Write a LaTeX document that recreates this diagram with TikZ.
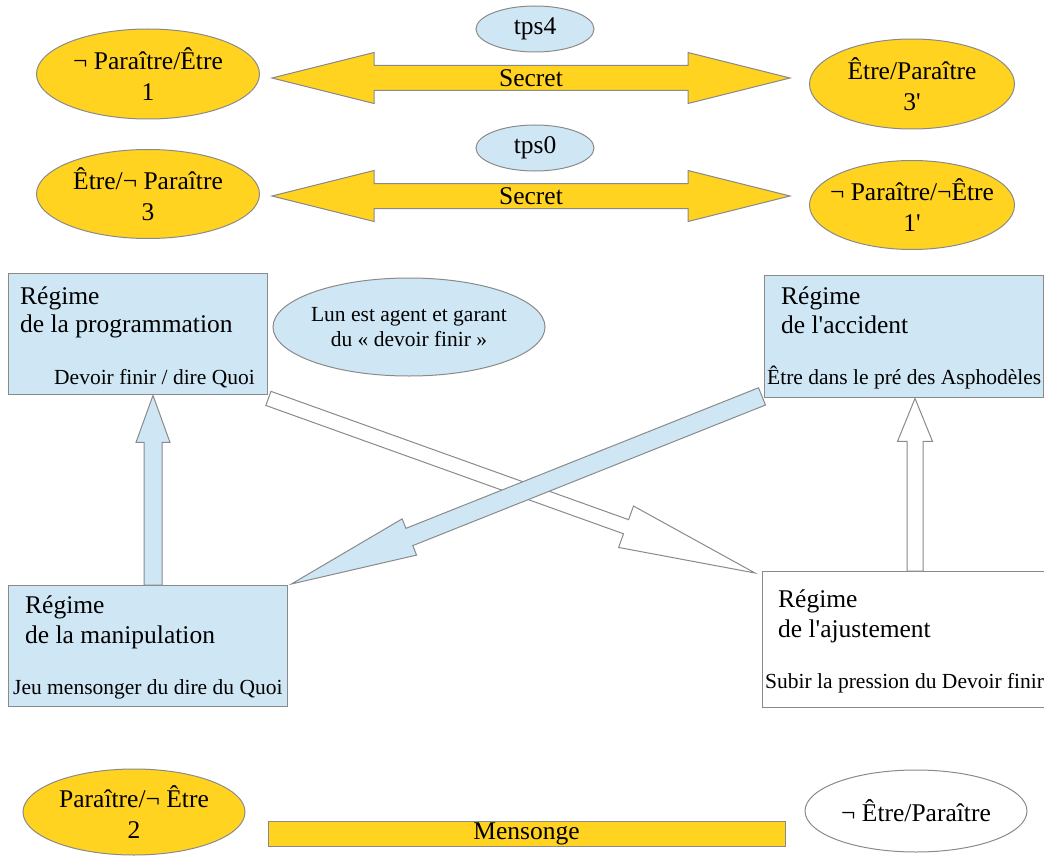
\documentclass[tikz,border=0pt]{standalone}
\usepackage{fontspec}
\setmainfont{Liberation Serif}
\usetikzlibrary{calc,shapes.geometric}
\definecolor{sunyellow}{HTML}{FFD320}
\definecolor{paleblue}{HTML}{CFE7F5}
\definecolor{edgegray}{HTML}{8A8A8A}
\newcommand{\bigfnt}{\fontsize{25.5}{31}\selectfont}
\newcommand{\smallfnt}{\fontsize{21.5}{25}\selectfont}
% block arrow from #2 (tail) to #3 (tip): shaft half-width #4, head half-width #5, head length #6
\newcommand{\blockarrow}[6][]{%
  \coordinate (hb) at ($(#3)!#6!(#2)$);
  \draw[#1] ($(#2)!#4!90:(#3)$) -- ($(hb)!#4!-90:(#2)$) -- ($(hb)!#5!-90:(#2)$) -- (#3)
    -- ($(hb)!#5!90:(#2)$) -- ($(hb)!#4!90:(#2)$) -- ($(#2)!#4!-90:(#3)$) -- cycle;}
% two-headed block arrow between #2 and #3
\newcommand{\dblarrow}[6][]{%
  \coordinate (hba) at ($(#2)!#6!(#3)$);
  \coordinate (hbb) at ($(#3)!#6!(#2)$);
  \draw[#1] (#2) -- ($(hba)!#5!90:(#3)$) -- ($(hba)!#4!90:(#3)$) -- ($(hbb)!#4!-90:(#2)$)
    -- ($(hbb)!#5!-90:(#2)$) -- (#3) -- ($(hbb)!#5!90:(#2)$) -- ($(hbb)!#4!90:(#2)$)
    -- ($(hba)!#4!-90:(#3)$) -- ($(hba)!#5!-90:(#3)$) -- cycle;}
\begin{document}
\begin{tikzpicture}[x=1pt,y=-1pt,line join=miter,
  ell/.style={ellipse, draw=edgegray, line width=1pt, inner sep=0pt, inner xsep=-15pt, align=center, font=\bigfnt},
  yel/.style={fill=sunyellow},
  pale/.style={fill=paleblue},
  regbox/.style={rectangle, draw=edgegray, line width=1.4pt, anchor=north west, inner sep=0pt},
  head/.style={anchor=base west, inner sep=0pt, font=\bigfnt},
  note/.style={anchor=base west, inner sep=0pt, font=\smallfnt},
  yarrow/.style={draw=edgegray, line width=1pt, fill=sunyellow},
  barrow/.style={draw=edgegray, line width=1pt, fill=paleblue},
  warrow/.style={draw=edgegray, line width=1pt, fill=white},
]
\useasboundingbox (0,0) rectangle (1044,856);
\clip (0,0) rectangle (1044,856);

% --- secret exchanges (top) ---
\node[ell, yel, minimum width=223pt, minimum height=90pt] (e1) at (148,74) {¬ Paraître/Être\\1};
\node[ell, yel, minimum width=205pt, minimum height=90pt, inner xsep=-25pt] (e3p) at (912,84) {Être/Paraître\\3\textquotesingle};
\node[ell, pale, minimum width=118pt, minimum height=46pt] (tps4) at (535,29) {tps4};
\coordinate (s1a) at (272,78);
\coordinate (s1b) at (790,78);
\dblarrow[yarrow]{s1a}{s1b}{12.5pt}{25.5pt}{102pt}
\node[font=\bigfnt, inner sep=0pt] (sec1) at ($(s1a)!0.5!(s1b)$) {Secret};

\node[ell, yel, minimum width=223pt, minimum height=89pt] (e3) at (148,194) {Être/¬ Paraître\\3};
\node[ell, yel, minimum width=205pt, minimum height=89pt, inner xsep=-25pt] (e1p) at (912,205) {¬ Paraître/¬Être\\1\textquotesingle};
\node[ell, pale, minimum width=118pt, minimum height=46pt] (tps0) at (535,148) {tps0};
\coordinate (s2a) at (272,196);
\coordinate (s2b) at (790,196);
\dblarrow[yarrow]{s2a}{s2b}{12.5pt}{25.5pt}{102pt}
\node[font=\bigfnt, inner sep=0pt] (sec2) at ($(s2a)!0.5!(s2b)$) {Secret};

% --- regimes ---
\node[regbox, pale, minimum width=259pt, minimum height=121pt] (prog) at (8,273) {};
\node[head] (prog-t1) at (20,304) {Régime};
\node[head] (prog-t2) at (20,332) {de la programmation};
\node[note, anchor=base east] (prog-t3) at (255,384) {Devoir finir / dire Quoi};

\node[ell, pale, font=\smallfnt, minimum width=272pt, minimum height=98pt, inner xsep=-20pt] (lun) at (409,327)
  {\fontsize{21.5}{25}\selectfont Lun est agent et garant\\du « devoir finir »};

\node[regbox, pale, minimum width=279pt, minimum height=122pt] (acc) at (764,275) {};
\node[head] (acc-t1) at (781,304) {Régime};
\node[head] (acc-t2) at (781,333) {de l\textquotesingle accident};
\node[note] (acc-t3) at (767,384) {Être dans le pré des Asphodèles};

\node[regbox, pale, minimum width=279pt, minimum height=121pt] (manip) at (8,585) {};
\node[head] (manip-t1) at (25,613) {Régime};
\node[head] (manip-t2) at (25,643) {de la manipulation};
\node[note] (manip-t3) at (13,694) {Jeu mensonger du dire du Quoi};

\node[regbox, fill=white, minimum width=300pt, minimum height=136pt] (adj) at (762,571) {};
\node[head] (adj-t1) at (778,607) {Régime};
\node[head] (adj-t2) at (778,637) {de l\textquotesingle ajustement};
\node[note] (adj-t3) at (765,688) {Subir la pression du Devoir finir};

% --- transitions between regimes ---
\coordinate (wd-s) at ([yshift=-3pt]prog.south east);
\coordinate (wd-t) at ([xshift=-7pt,yshift=-2pt]adj.north west);
\blockarrow[warrow]{wd-s}{wd-t}{7.5pt}{22pt}{137pt}

\coordinate (bd-s) at ([xshift=-2pt,yshift=2pt]acc.south west);
\coordinate (bd-t) at ([xshift=3pt,yshift=1pt]manip.north east);
\blockarrow[barrow]{bd-s}{bd-t}{9.3pt}{19.5pt}{127pt}

\coordinate (bu-t) at ([xshift=145pt]prog.south west);
\coordinate (bu-s) at (bu-t |- manip.north);
\blockarrow[barrow]{bu-s}{bu-t}{9pt}{17pt}{47pt}

\coordinate (wu-t) at ([xshift=151pt]acc.south west);
\coordinate (wu-s) at (wu-t |- adj.north);
\blockarrow[warrow]{wu-s}{wu-t}{8pt}{17.5pt}{43pt}

% --- lie (bottom) ---
\node[ell, yel, minimum width=222pt, minimum height=86pt] (e2) at (134,812) {Paraître/¬ Être\\2};
\node[rectangle, draw=edgegray, line width=1pt, fill=sunyellow, minimum width=517pt, minimum height=25pt,
  inner sep=0pt, font=\bigfnt] (mens) at (526.5,833.5) {Mensonge};
\node[ell, fill=white, minimum width=222pt, minimum height=82pt] (enot) at (916,811) {¬ Être/Paraître};
\end{tikzpicture}
\end{document}
